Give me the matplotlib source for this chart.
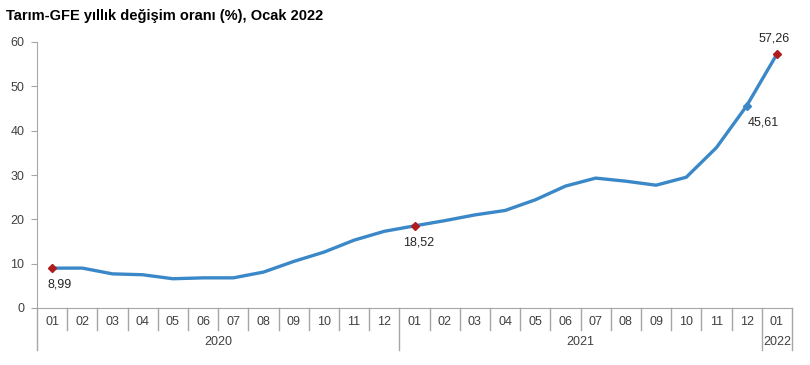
import matplotlib.pyplot as plt
import matplotlib.transforms as mtransforms

months = ['01', '02', '03', '04', '05', '06', '07', '08', '09', '10', '11', '12',
          '01', '02', '03', '04', '05', '06', '07', '08', '09', '10', '11', '12',
          '01']
years = ['2020', '2021', '2022']
year_counts = [12, 12, 1]
values = [8.99, 9.0, 7.7, 7.5, 6.6, 6.8, 6.8, 8.1, 10.5, 12.6, 15.3, 17.3,
          18.52, 19.7, 21.0, 22.0, 24.4, 27.5, 29.3, 28.6, 27.7, 29.5, 36.2, 45.61,
          57.26]
yticks = [0, 10, 20, 30, 40, 50, 60]

red_points = [0, 12, 24]
blue_points = [23]
point_labels = {0: '8,99', 12: '18,52', 23: '45,61', 24: '57,26'}

plt.rcParams['font.family'] = ['Liberation Sans', 'DejaVu Sans']

line_color = '#3A88C8'
red = '#B01C1C'
gray = '#A6A6A6'
text_color = '#404040'

fig = plt.figure(figsize=(8.1, 3.65), dpi=100)
ax = fig.add_axes([37 / 810, 1 - 308 / 365, (792 - 37) / 810, 266 / 365])

x = list(range(len(values)))
ax.plot(x, values, color=line_color, lw=2.4, solid_joinstyle='round', zorder=2)
ax.plot(red_points, [values[i] for i in red_points], 'D', color=red, ms=4, zorder=3)
ax.plot(blue_points, [values[i] for i in blue_points], 'D', color=line_color, ms=4, zorder=3)

# point labels
lab = dict(textcoords='offset points', va='center', fontsize=9, color='#262626')
ax.annotate(point_labels[0], (0, values[0]), xytext=(-3, -12), ha='left', **lab)
ax.annotate(point_labels[12], (12, values[12]), xytext=(3, -12), ha='center', **lab)
ax.annotate(point_labels[23], (23, values[23]), xytext=(12, -12), ha='center', **lab)
ax.annotate(point_labels[24], (24, values[24]), xytext=(-2, 11), ha='center', **lab)

ax.set_xlim(-0.5, len(values) - 0.5)
ax.set_ylim(0, 60)
ax.set_yticks(yticks)
ax.set_yticklabels([str(t) for t in yticks], fontsize=9, color=text_color)
ax.tick_params(axis='y', length=4, color=gray, pad=5)
ax.set_xticks([])

for s in ['top', 'right']:
    ax.spines[s].set_visible(False)
ax.spines['left'].set_color(gray)
ax.spines['bottom'].set_color(gray)

# category axis: month boxes and year groups
trans = mtransforms.blended_transform_factory(ax.transData, ax.transAxes)
for i, m in enumerate(months):
    ax.text(i, -0.053, m, transform=trans, ha='center', va='center',
            fontsize=9, color=text_color)

bounds = [-0.5]
for c in year_counts:
    bounds.append(bounds[-1] + c)
for i in range(len(months) + 1):
    b = i - 0.5
    y0 = -0.158 if b in bounds else -0.083
    ax.plot([b, b], [0, y0], transform=trans, color=gray, lw=1, clip_on=False)

for j, yr in enumerate(years):
    mid = (bounds[j] + bounds[j + 1]) / 2
    ax.text(mid, -0.128, yr, transform=trans, ha='center', va='center',
            fontsize=9, color=text_color)

fig.text(6 / 810, 1 - 16 / 365, 'Tarım-GFE yıllık değişim oranı (%), Ocak 2022',
         ha='left', va='center', fontsize=10.5, fontweight='bold', color='black')

fig.savefig('out.png', dpi=100, facecolor='white')
